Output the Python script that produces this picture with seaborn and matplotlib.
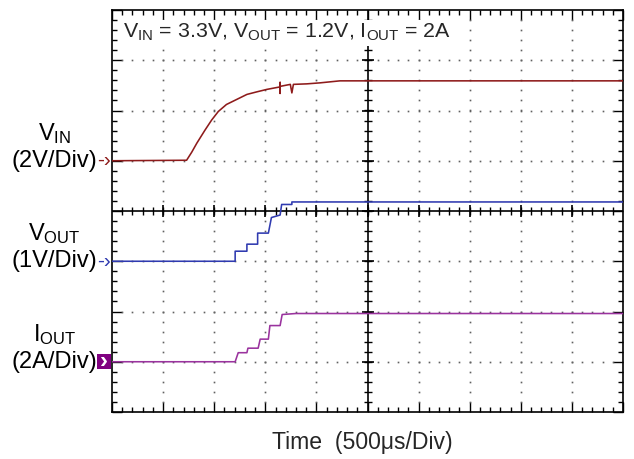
import numpy as np
import pandas as pd
import matplotlib
matplotlib.use("Agg")
import matplotlib.pyplot as plt
import seaborn as sns
from matplotlib.patches import Rectangle
from matplotlib.transforms import blended_transform_factory

# ---------------- data (read from the scope capture) ----------------
time_vin_us = [0, 730, 780, 830, 910, 975, 1040, 1120, 1220, 1320, 1415, 1515,
               1645, 1645, 1645, 1645, 1745, 1760, 1775, 1905, 2035, 2230, 2505, 5000]
vin_volts = [0.00, 0.02, 0.34, 0.70, 1.22, 1.62, 1.96, 2.24, 2.44, 2.64, 2.74, 2.84,
             2.94, 3.12, 2.68, 2.96, 3.04, 2.70, 3.04, 3.06, 3.10, 3.18, 3.18, 3.18]

time_vout_us = [0, 1205, 1205, 1320, 1320, 1425, 1425, 1530, 1560, 1645, 1660, 1760, 1760, 5000]
vout_volts = [0.00, 0.00, 0.20, 0.20, 0.34, 0.34, 0.56, 0.56, 0.87, 0.92, 1.13, 1.13, 1.18, 1.18]

time_iout_us = [0, 1205, 1235, 1320, 1330, 1430, 1450, 1530, 1545, 1645, 1665, 1800, 5000]
iout_amps = [0.00, 0.00, 0.36, 0.36, 0.54, 0.54, 0.90, 0.90, 1.44, 1.44, 1.88, 1.92, 1.92]

channel_names = [r"V$_{IN}$", r"V$_{OUT}$", r"I$_{OUT}$"]
channel_scales = ["(2V/Div)", "(1V/Div)", "(2A/Div)"]
title_text = r"V$_{IN}$ = 3.3V, V$_{OUT}$ = 1.2V, I$_{OUT}$ = 2A"
xlabel_text = "Time  (500\u03bcs/Div)"

# ---------------- style ----------------
sns.set_style("white")
plt.rcParams['font.family'] = ['Liberation Sans', 'DejaVu Sans']
plt.rcParams['mathtext.default'] = 'regular'

time_per_div = 500.0
div_scale = [2.0, 1.0, 2.0]          # units per division
div_offset = [5.0, 3.0, 1.0]         # ground marker position (divisions)
colors = ["#8E1B1B", "#2F3AB0", "#9A339E"]

fig = plt.figure(figsize=(6.34, 4.59), dpi=100)
ax = fig.add_axes([112 / 634, 47 / 459, 511 / 634, 402 / 459])

traces = [(time_vin_us, vin_volts), (time_vout_us, vout_volts), (time_iout_us, iout_amps)]
for i, (t, v) in enumerate(traces):
    df = pd.DataFrame({"t": np.asarray(t) / time_per_div,
                       "y": div_offset[i] + np.asarray(v) / div_scale[i]})
    sns.lineplot(data=df, x="t", y="y", estimator=None, sort=False,
                 color=colors[i], lw=1.15, ax=ax, legend=False, zorder=3)

ax.set_xlim(0, 10)
ax.set_ylim(0, 8)
ax.set_xticks(np.arange(0, 11))
ax.set_yticks(np.arange(0, 9))
ax.set_xticks(np.arange(0, 10.01, 0.2), minor=True)
ax.set_yticks(np.arange(0, 8.01, 0.2), minor=True)
ax.tick_params(which='both', direction='in', top=True, bottom=True, left=True, right=True,
               labelbottom=False, labelleft=False, color='black')
ax.tick_params(which='major', length=7, width=1.0)
ax.tick_params(which='minor', length=3.6, width=1.0)
ax.set_ylabel("")
for s in ax.spines.values():
    s.set_visible(True)
    s.set_color("black")
    s.set_linewidth(1.2)

# dotted graticule
gx, gy = [], []
fine_y = np.arange(0.2, 8.0, 0.2)
fine_x = np.arange(0.2, 10.0, 0.2)
for xv in [1, 2, 3, 4, 6, 7, 8, 9]:
    gx += [xv] * len(fine_y)
    gy += list(fine_y)
for yv in [1, 2, 3, 5, 6, 7]:
    gx += list(fine_x)
    gy += [yv] * len(fine_x)
ax.plot(gx, gy, ls='none', marker='s', ms=1.2, mew=0, color='#606060', zorder=1)

# centre axes with ticks
ax.axhline(4, color='black', lw=1.2, zorder=2)
ax.axvline(5, color='black', lw=1.2, zorder=2)
ax.plot(fine_x, np.full(len(fine_x), 4.0), ls='none', marker='|', ms=5.5, mew=1.0, color='black', zorder=2)
ax.plot(np.arange(1, 10), np.full(9, 4.0), ls='none', marker='|', ms=9, mew=1.2, color='black', zorder=2)
ax.plot(np.full(len(fine_y), 5.0), fine_y, ls='none', marker='_', ms=5.5, mew=1.0, color='black', zorder=2)
ax.plot(np.full(7, 5.0), np.arange(1, 8), ls='none', marker='_', ms=9, mew=1.2, color='black', zorder=2)

# channel labels & ground markers
bt = blended_transform_factory(ax.transAxes, ax.transData)
for i in range(3):
    y0 = div_offset[i]
    ax.text(-0.029, y0, channel_scales[i], transform=bt, ha='right', va='center',
            fontsize=17, color='black')
    ax.text(-0.113, y0 + 0.42, channel_names[i], transform=bt, ha='center', va='baseline',
            fontsize=17, color='black')
    if i < 2:
        ax.text(-0.003, y0, "-\u203a", transform=bt, ha='right', va='center',
                fontsize=15, color=colors[i])
    else:
        ax.add_patch(Rectangle((-0.0294, y0 - 0.15), 0.027, 0.30, transform=bt,
                               facecolor='#800080', edgecolor='none', clip_on=False))
        ax.text(-0.016, y0, "\u203a", transform=bt, ha='center', va='center',
                fontsize=17, color='white', fontweight='bold')

ax.text(0.0215, 7.44, title_text, transform=bt, ha='left', va='baseline', fontsize=15.4,
        zorder=5, bbox=dict(facecolor='white', edgecolor='none', pad=1.5))

ax.set_xlabel(xlabel_text, fontsize=16.6)
ax.xaxis.set_label_coords(0.489, -0.077)
ax.xaxis.label.set_va('center')

fig.savefig("out.png", dpi=100)
